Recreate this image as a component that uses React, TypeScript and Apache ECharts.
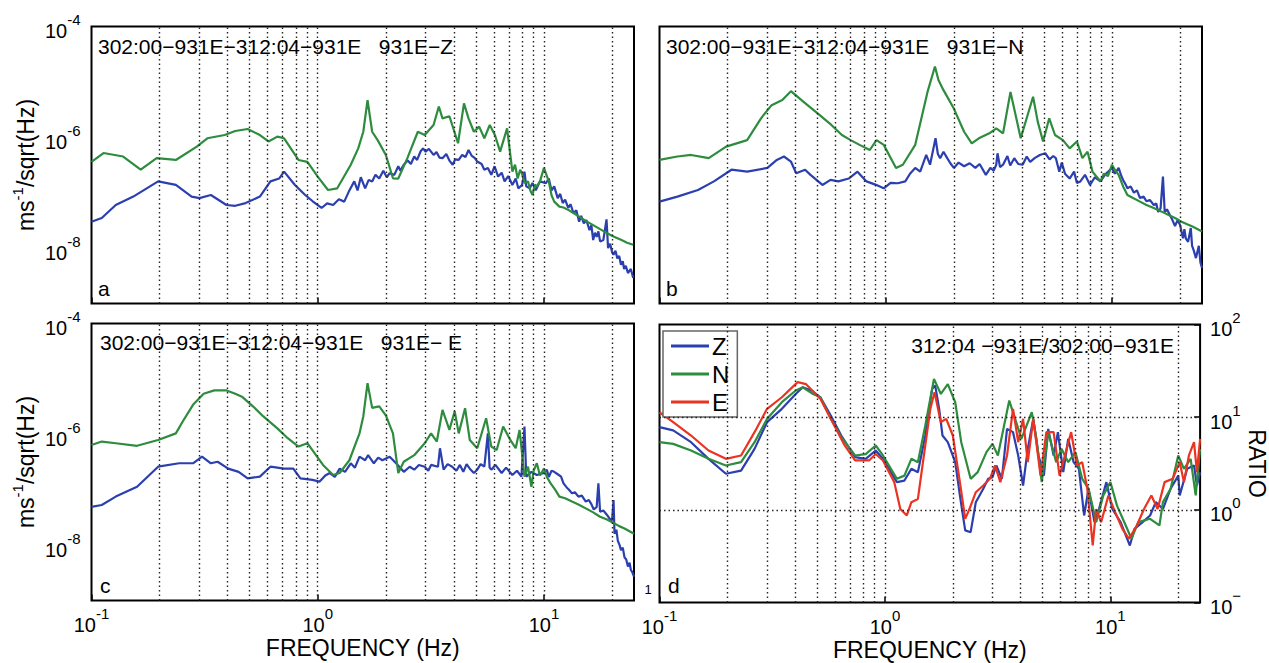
import { useEffect, useRef } from "react";
import * as echarts from "echarts";

const FONT = "'Liberation Sans', Arial, Helvetica, sans-serif";
const BLUE = "#2c3fae";
const GREEN = "#2e8c3e";
const RED = "#eb3322";

const FREQ_MIN = 0.1;
const FREQ_MAX = 25;
const ASD_MIN = 1e-9;
const ASD_MAX = 1e-4;
const RATIO_MIN = 0.1;
const RATIO_MAX = 100;

const GRID_FREQS = [0.2, 0.3, 0.4, 0.5, 0.6, 0.7, 0.8, 0.9, 1, 2, 3, 4, 5, 6, 7, 8, 9, 10, 20];
const ASD_GRID = [1e-6, 1e-8];
const RATIO_GRID = [1, 10];

const PANEL_TITLES = [
  "302:00−931E−312:04−931E   931E−Z",
  "302:00−931E−312:04−931E   931E−N",
  "302:00−931E−312:04−931E   931E− E",
  "312:04 −931E/302:00−931E",
];
const PANEL_LETTERS = ["a", "b", "c", "d"];
const RATIO_NAMES = ["Z", "N", "E"];

// Panel a (931E-Z): blue = first spectrum, green = second spectrum
const aBlue: number[][] = [
  [0.1, 3.0e-8], [0.111, 3.5e-8], [0.128, 6.0e-8], [0.153, 8.5e-8], [0.197, 1.6e-7], [0.236, 1.38e-7],
  [0.277, 8.5e-8], [0.3, 8.0e-8], [0.337, 9.1e-8], [0.395, 6.0e-8], [0.432, 5.8e-8], [0.48, 6.5e-8],
  [0.555, 8.5e-8], [0.618, 1.6e-7], [0.675, 1.8e-7], [0.71, 2.4e-7], [0.793, 1.38e-7], [0.88, 9.1e-8],
  [0.95, 7.0e-8], [1.04, 5.3e-8], [1.1, 6.4e-8], [1.17, 6.0e-8], [1.24, 7.6e-8], [1.31, 6.9e-8],
  [1.38, 1.1e-7], [1.45, 1.6e-7], [1.5, 1.1e-7], [1.55, 1.9e-7], [1.62, 1.2e-7], [1.68, 1.7e-7],
  [1.74, 1.6e-7], [1.8, 2.1e-7], [1.87, 1.8e-7], [1.95, 2.5e-7], [2.02, 1.9e-7], [2.08, 2.25e-7],
  [2.18, 2.1e-7], [2.27, 3.0e-7], [2.32, 2.5e-7], [2.4, 3.2e-7], [2.5, 3.8e-7], [2.58, 3.3e-7],
  [2.67, 4.5e-7], [2.75, 3.9e-7], [2.85, 5.6e-7], [2.92, 6.3e-7], [3.0, 5.5e-7], [3.1, 6.2e-7],
  [3.25, 4.8e-7], [3.35, 5.4e-7], [3.45, 4.3e-7], [3.56, 4.2e-7], [3.7, 5.0e-7], [3.82, 3.8e-7],
  [3.95, 3.2e-7], [4.05, 4.0e-7], [4.2, 3.9e-7], [4.35, 4.8e-7], [4.5, 4.4e-7], [4.64, 5.9e-7],
  [4.8, 4.6e-7], [4.95, 4.2e-7], [5.07, 3.65e-7], [5.3, 3.3e-7], [5.45, 2.6e-7], [5.65, 2.8e-7],
  [5.85, 2.1e-7], [6.05, 3.0e-7], [6.27, 1.95e-7], [6.5, 2.3e-7], [6.7, 1.6e-7], [6.95, 2.0e-7],
  [7.25, 1.38e-7], [7.5, 1.8e-7], [7.7, 1.2e-7], [8.0, 1.38e-7], [8.2, 2.4e-7], [8.35, 1.3e-7],
  [8.65, 1.2e-7], [8.9, 1.5e-7], [9.2, 1.1e-7], [9.6, 1.6e-7], [10.2, 1.48e-7], [10.5, 1.8e-7],
  [10.8, 1.1e-7], [11.1, 1.3e-7], [11.5, 8.0e-8], [11.8, 9.5e-8], [12.1, 6.5e-8], [12.4, 7.5e-8],
  [12.8, 5.3e-8], [13.1, 6.2e-8], [13.5, 4.3e-8], [13.9, 4.8e-8], [14.3, 3.0e-8], [14.6, 3.8e-8],
  [15.0, 2.8e-8], [15.4, 3.2e-8], [15.9, 2.1e-8], [16.2, 2.6e-8], [16.5, 1.4e-8], [16.8, 1.9e-8],
  [17.1, 1.6e-8], [17.4, 2.0e-8], [17.7, 1.32e-8], [18.3, 1.4e-8], [18.9, 3.3e-8], [19.2, 1.0e-8],
  [19.6, 1.2e-8], [20.0, 8.5e-9], [20.3, 7.6e-9], [20.7, 9.0e-9], [21.1, 6.5e-9], [21.5, 7.2e-9],
  [21.9, 5.0e-9], [22.3, 5.8e-9], [22.6, 4.2e-9], [23.0, 4.8e-9], [23.5, 3.55e-9], [24.2, 4.2e-9],
  [24.8, 2.9e-9],
];
const aGreen: number[][] = [
  [0.1, 3.6e-7], [0.113, 5.2e-7], [0.138, 4.5e-7], [0.165, 2.6e-7], [0.194, 4.2e-7], [0.236, 3.9e-7],
  [0.292, 6.8e-7], [0.325, 9.6e-7], [0.388, 1.1e-6], [0.432, 1.3e-6], [0.49, 1.41e-6], [0.555, 1.1e-6],
  [0.606, 8.4e-7], [0.663, 1.03e-6], [0.71, 9.6e-7], [0.822, 3.9e-7], [0.9, 3.6e-7], [1.0, 1.95e-7],
  [1.11, 1.12e-7], [1.22, 1.2e-7], [1.4, 3.2e-7], [1.51, 6.3e-7], [1.59, 1.26e-6], [1.66, 4.7e-6],
  [1.74, 1.26e-6], [1.84, 8.9e-7], [2.0, 4.8e-7], [2.15, 1.82e-7], [2.27, 1.8e-7], [2.49, 4.2e-7],
  [2.77, 1.26e-6], [2.97, 1.1e-6], [3.25, 1.67e-6], [3.43, 3.6e-6], [3.56, 2.2e-6], [3.82, 2.4e-6],
  [4.17, 7.8e-7], [4.43, 4.1e-6], [4.64, 2.2e-6], [4.9, 1.26e-6], [5.17, 1.56e-6], [5.45, 9.6e-7],
  [5.76, 1.67e-6], [6.07, 1.1e-6], [6.4, 5.5e-7], [6.87, 1.45e-6], [7.25, 2.4e-7], [7.45, 3.2e-7],
  [7.65, 1.8e-7], [7.85, 2.6e-7], [8.0, 2.2e-7], [8.2, 1.5e-7], [8.5, 1.6e-7], [8.7, 1.1e-7],
  [8.9, 9.1e-8], [9.1, 1.4e-7], [9.3, 1.3e-7], [9.6, 1.6e-7], [10, 2.8e-7], [10.3, 2.0e-7],
  [10.5, 1.6e-7], [10.8, 9.0e-8], [11.1, 6.9e-8], [11.7, 5.6e-8], [12.2, 5.4e-8], [12.8, 4.9e-8],
  [13.5, 4.3e-8], [14.3, 3.7e-8], [15.3, 3.1e-8], [16.5, 2.6e-8], [17.7, 2.2e-8], [19.0, 1.86e-8],
  [20.4, 1.6e-8], [21.9, 1.41e-8], [23.3, 1.25e-8], [24.8, 1.15e-8],
];

// Panel b (931E-N)
const bBlue: number[][] = [
  [0.1, 6.9e-8], [0.12, 8.5e-8], [0.148, 1.12e-7], [0.174, 1.6e-7], [0.208, 2.6e-7], [0.244, 2.4e-7],
  [0.3, 2.8e-7], [0.33, 3.9e-7], [0.355, 4.5e-7], [0.381, 3.65e-7], [0.402, 2.25e-7], [0.44, 2.6e-7],
  [0.465, 2.1e-7], [0.525, 1.38e-7], [0.57, 1.7e-7], [0.618, 1.6e-7], [0.686, 1.8e-7], [0.75, 2.4e-7],
  [0.822, 1.6e-7], [0.9, 1.4e-7], [0.98, 1.2e-7], [1.05, 1.5e-7], [1.13, 1.48e-7], [1.22, 1.6e-7],
  [1.28, 2.2e-7], [1.35, 2.8e-7], [1.42, 2.4e-7], [1.51, 4.8e-7], [1.57, 3.2e-7], [1.66, 9.6e-7],
  [1.7, 5.0e-7], [1.74, 4.2e-7], [1.8, 5.5e-7], [1.87, 4.2e-7], [1.93, 3.4e-7], [2.0, 2.8e-7],
  [2.1, 3.5e-7], [2.22, 3.0e-7], [2.35, 3.4e-7], [2.49, 2.8e-7], [2.6, 3.3e-7], [2.77, 2.1e-7],
  [2.9, 2.8e-7], [3.0, 2.5e-7], [3.08, 3.2e-7], [3.12, 5.15e-7], [3.2, 2.9e-7], [3.3, 3.2e-7],
  [3.45, 4.6e-7], [3.55, 3.1e-7], [3.7, 4.2e-7], [3.85, 3.3e-7], [4.03, 3.2e-7], [4.2, 4.5e-7],
  [4.35, 3.6e-7], [4.55, 4.2e-7], [4.8, 4.8e-7], [5.07, 5.15e-7], [5.3, 4.0e-7], [5.5, 4.6e-7],
  [5.65, 4.2e-7], [5.85, 2.4e-7], [6.0, 3.5e-7], [6.2, 2.2e-7], [6.5, 1.8e-7], [6.8, 2.4e-7],
  [7.0, 1.5e-7], [7.25, 1.6e-7], [7.6, 2.1e-7], [8.0, 1.38e-7], [8.4, 1.9e-7], [8.9, 1.6e-7],
  [9.3, 2.1e-7], [10, 2.8e-7], [10.3, 2.2e-7], [10.7, 2.8e-7], [11.0, 2.0e-7], [11.2, 1.7e-7],
  [11.5, 1.4e-7], [11.7, 1.2e-7], [12.1, 1.3e-7], [12.5, 1.0e-7], [12.9, 1.1e-7], [13.3, 8.0e-8],
  [13.8, 8.5e-8], [14.2, 7.0e-8], [14.7, 7.4e-8], [15.3, 6.0e-8], [15.7, 6.4e-8], [16.0, 4.5e-8],
  [16.4, 5.2e-8], [16.8, 1.95e-7], [17.1, 4.5e-8], [17.5, 5.0e-8], [18.0, 4.0e-8], [18.5, 3.2e-8],
  [19.0, 2.5e-8], [19.5, 3.2e-8], [20, 2.6e-8], [20.6, 1.5e-8], [20.9, 2.2e-8], [21.2, 1.5e-8],
  [21.7, 1.3e-8], [22.3, 2.3e-8], [22.6, 1.1e-8], [23.0, 9.0e-9], [23.5, 6.6e-9], [24.2, 1.1e-8],
  [24.6, 5.5e-9], [25, 4.4e-9],
];
const bGreen: number[][] = [
  [0.1, 3.9e-7], [0.12, 4.5e-7], [0.138, 4.8e-7], [0.165, 4.2e-7], [0.197, 6.8e-7], [0.244, 8.9e-7],
  [0.281, 2.2e-6], [0.313, 3.8e-6], [0.349, 4.7e-6], [0.381, 6.8e-6], [0.432, 4.4e-6], [0.5, 2.7e-6],
  [0.575, 1.67e-6], [0.64, 1.1e-6], [0.7, 8.9e-7], [0.766, 7.3e-7], [0.85, 5.9e-7], [0.91, 8.9e-7],
  [0.98, 7.3e-7], [1.11, 2.8e-7], [1.19, 3.2e-7], [1.35, 7.3e-7], [1.53, 6.6e-6], [1.65, 1.9e-5],
  [1.71, 1.08e-5], [1.8, 7.1e-6], [2.0, 3.3e-6], [2.22, 1.26e-6], [2.4, 7.8e-7], [2.58, 9.6e-7],
  [2.87, 1.18e-6], [3.08, 1.45e-6], [3.3, 1.18e-6], [3.56, 6.6e-6], [3.95, 9.6e-7], [4.48, 5.4e-6],
  [4.7, 1.9e-6], [4.96, 8.4e-7], [5.28, 2.2e-6], [5.6, 1.1e-6], [6.07, 8.9e-7], [6.5, 6.3e-7],
  [7.0, 8.4e-7], [7.4, 4.2e-7], [7.8, 5.5e-7], [8.2, 2.4e-7], [8.5, 2.0e-7], [8.9, 1.6e-7],
  [9.2, 2.2e-7], [9.6, 2.0e-7], [10, 3.2e-7], [10.3, 2.6e-7], [10.7, 2.1e-7], [11.2, 1.3e-7],
  [11.7, 9.1e-8], [12.4, 8.0e-8], [13.3, 6.9e-8], [14.2, 6.0e-8], [15.3, 5.3e-8], [16.5, 4.6e-8],
  [17.7, 4.0e-8], [19.0, 3.5e-8], [20.3, 3.0e-8], [21.5, 2.7e-8], [22.7, 2.45e-8], [25, 2.0e-8],
];

// Panel c (931E-E)
const cBlue: number[][] = [
  [0.1, 4.9e-8], [0.111, 5.3e-8], [0.128, 7.5e-8], [0.159, 1.13e-7], [0.197, 2.6e-7], [0.244, 3.0e-7],
  [0.281, 3.0e-7], [0.308, 3.95e-7], [0.337, 3.0e-7], [0.361, 3.2e-7], [0.402, 2.4e-7], [0.447, 2.1e-7],
  [0.49, 1.6e-7], [0.555, 1.72e-7], [0.618, 2.6e-7], [0.71, 2.4e-7], [0.78, 2.4e-7], [0.838, 1.6e-7],
  [0.947, 1.5e-7], [1.02, 1.4e-7], [1.08, 1.8e-7], [1.13, 2.0e-7], [1.19, 1.7e-7], [1.25, 2.4e-7],
  [1.32, 2.1e-7], [1.4, 3.0e-7], [1.46, 2.5e-7], [1.53, 3.95e-7], [1.62, 3.4e-7], [1.67, 4.2e-7],
  [1.77, 3.0e-7], [1.85, 3.8e-7], [1.93, 3.4e-7], [2.08, 3.95e-7], [2.22, 3.0e-7], [2.4, 2.1e-7],
  [2.55, 2.6e-7], [2.67, 2.3e-7], [2.8, 2.8e-7], [2.97, 2.6e-7], [3.08, 2.2e-7], [3.17, 2.8e-7],
  [3.4, 2.6e-7], [3.47, 5.6e-7], [3.6, 2.3e-7], [3.75, 2.9e-7], [3.93, 2.6e-7], [4.1, 2.2e-7],
  [4.25, 2.8e-7], [4.4, 2.1e-7], [4.55, 2.9e-7], [4.7, 2.4e-7], [4.9, 2.0e-7], [5.07, 2.3e-7],
  [5.25, 2.9e-7], [5.45, 2.6e-7], [5.65, 1.04e-6], [5.75, 2.5e-7], [5.85, 2.3e-7], [6.1, 2.8e-7],
  [6.5, 2.0e-7], [6.8, 2.5e-7], [7.25, 1.84e-7], [7.6, 2.2e-7], [7.95, 1.72e-7], [8.2, 1.38e-6],
  [8.35, 1.72e-7], [8.8, 2.1e-7], [9.3, 1.84e-7], [10, 2.0e-7], [10.3, 2.3e-7], [10.5, 1.7e-7],
  [10.8, 2.2e-7], [11.1, 2.1e-7], [11.5, 1.9e-7], [11.9, 1.72e-7], [12.2, 1.3e-7], [12.6, 1.1e-7],
  [12.9, 1.0e-7], [13.3, 8.6e-8], [13.7, 9.0e-8], [14.2, 7.5e-8], [14.7, 7.8e-8], [15.3, 6.1e-8],
  [15.8, 6.5e-8], [16.2, 5.5e-8], [16.6, 4.4e-8], [17.1, 4.9e-8], [17.4, 1.3e-7], [17.7, 4.0e-8],
  [18.3, 4.2e-8], [19.0, 3.5e-8], [19.5, 3.0e-8], [20, 2.8e-8], [20.3, 6.5e-8], [20.5, 1.6e-8],
  [20.9, 1.9e-8], [21.2, 1.2e-8], [21.6, 1.0e-8], [21.9, 8.1e-9], [22.3, 9.0e-9], [22.7, 6.0e-9],
  [23.1, 5.5e-9], [23.5, 4.1e-9], [23.9, 4.8e-9], [24.2, 3.6e-9], [24.6, 3.2e-9], [25, 2.7e-9],
];
const cGreen: number[][] = [
  [0.1, 6.4e-7], [0.111, 7.4e-7], [0.128, 6.9e-7], [0.159, 6.2e-7], [0.197, 7.9e-7], [0.236, 1.04e-6],
  [0.253, 1.7e-6], [0.281, 3.4e-6], [0.313, 5.4e-6], [0.349, 6.2e-6], [0.396, 6.2e-6], [0.432, 5.4e-6],
  [0.465, 4.7e-6], [0.517, 3.2e-6], [0.575, 2.1e-6], [0.663, 1.28e-6], [0.737, 8.5e-7], [0.822, 6.0e-7],
  [0.9, 6.9e-7], [0.947, 5.2e-7], [1.055, 2.8e-7], [1.17, 1.84e-7], [1.25, 2.0e-7], [1.38, 3.4e-7],
  [1.53, 1.04e-6], [1.59, 2.1e-6], [1.66, 8.4e-6], [1.74, 3.0e-6], [1.87, 3.2e-6], [2.0, 2.2e-6],
  [2.15, 1.04e-6], [2.27, 2.0e-7], [2.4, 3.2e-7], [2.67, 4.2e-7], [2.97, 6.9e-7], [3.17, 1.04e-6],
  [3.36, 7.4e-7], [3.56, 2.75e-6], [3.82, 1.2e-6], [4.03, 2.6e-6], [4.2, 1.04e-6], [4.48, 2.95e-6],
  [4.7, 7.9e-7], [5.07, 5.6e-7], [5.55, 1.95e-6], [5.85, 6.0e-7], [6.18, 5.2e-7], [6.6, 1.38e-6],
  [7.1, 7.9e-7], [7.5, 5.6e-7], [7.8, 1.2e-6], [8.2, 1.72e-7], [8.5, 2.6e-7], [8.8, 1.13e-7],
  [9.0, 2.2e-7], [9.3, 3.0e-7], [9.6, 1.8e-7], [10, 2.4e-7], [10.3, 1.7e-7], [10.7, 1.3e-7],
  [11.2, 1.0e-7], [11.7, 7.5e-8], [12.4, 7.0e-8], [13.3, 6.1e-8], [14.2, 5.4e-8], [15.3, 4.6e-8],
  [16.5, 3.9e-8], [17.7, 3.25e-8], [19.0, 2.9e-8], [20.3, 2.5e-8], [21.5, 2.2e-8], [22.7, 2.0e-8],
  [25, 1.6e-8],
];

// Panel d: spectral ratios 312:04 / 302:00
const dZ: number[][] = [
  [0.1, 7.8], [0.115, 7.2], [0.138, 5.37], [0.165, 3.55], [0.197, 2.45], [0.23, 2.65], [0.264, 4.55],
  [0.3, 8.83], [0.349, 12.3], [0.402, 17.8], [0.432, 21], [0.473, 19.4], [0.517, 16.4], [0.575, 10.4],
  [0.64, 6.34], [0.737, 3.7], [0.822, 3.55], [0.91, 4.37], [0.98, 3.55], [1.13, 1.99], [1.22, 2.07],
  [1.31, 2.77], [1.4, 2.55], [1.51, 6.34], [1.62, 20.2], [1.67, 22], [1.74, 12.3], [1.8, 6.34],
  [1.9, 5.37], [2.05, 3.27], [2.15, 1.43], [2.27, 0.6], [2.4, 0.574], [2.53, 1.21], [2.73, 1.69],
  [2.87, 2.16], [3.0, 2.25], [3.12, 3.01], [3.3, 2.16], [3.48, 7.48], [3.7, 6.89], [3.9, 3.86],
  [4.1, 1.83], [4.3, 4.55], [4.55, 9.6], [4.8, 3.86], [5.07, 2.34], [5.3, 7.48], [5.6, 3.86],
  [5.85, 6.89], [6.18, 2.55], [6.5, 5.84], [6.87, 3.27], [7.25, 2.77], [7.65, 0.869], [8.0, 1.69],
  [8.5, 0.736], [8.9, 1.02], [9.6, 1.99], [10.2, 1.02], [11.1, 0.736], [12.2, 0.412], [12.8, 0.624],
  [13.9, 0.736], [15.0, 0.869], [15.9, 1.21], [17.1, 1.02], [18.5, 1.69], [20, 2.34], [20.3, 1.43],
  [21.9, 2.77], [23.5, 3.01], [24.2, 1.83], [25, 2.55],
];
const dN: number[][] = [
  [0.1, 5.37], [0.115, 5.15], [0.138, 4.37], [0.165, 3.55], [0.197, 3.01], [0.23, 3.27], [0.264, 5.37],
  [0.3, 9.6], [0.349, 14.5], [0.402, 19.4], [0.432, 21], [0.48, 17.8], [0.517, 16.4], [0.575, 9.6],
  [0.64, 6.1], [0.737, 3.86], [0.822, 4.0], [0.91, 4.95], [0.98, 3.86], [1.13, 2.16], [1.22, 2.34],
  [1.31, 3.55], [1.4, 3.27], [1.51, 8.13], [1.65, 25.9], [1.77, 17.8], [1.9, 22.7], [2.05, 14.5],
  [2.18, 5.37], [2.4, 2.16], [2.58, 2.55], [2.82, 4.19], [3.0, 5.15], [3.17, 3.86], [3.56, 15.1],
  [3.82, 8.83], [4.03, 5.84], [4.48, 11.3], [4.7, 5.84], [4.96, 1.99], [5.3, 6.89], [5.75, 3.27],
  [6.07, 4.55], [6.5, 3.27], [7.0, 4.19], [7.5, 2.16], [8.0, 1.69], [8.65, 0.736], [9.3, 1.43],
  [10, 1.99], [10.7, 1.11], [11.7, 0.678], [12.4, 0.487], [13.3, 0.736], [15.0, 0.8], [16.5, 0.678],
  [17.1, 1.21], [18.5, 1.69], [20, 3.86], [21.2, 2.77], [22.7, 3.55], [23.9, 1.43], [25, 4.55],
];
const dE: number[][] = [
  [0.1, 11.3], [0.115, 8.83], [0.138, 6.34], [0.165, 4.37], [0.197, 3.55], [0.23, 3.86], [0.264, 6.89],
  [0.3, 12.3], [0.349, 16.4], [0.41, 23.9], [0.447, 22.7], [0.517, 15.8], [0.575, 9.6], [0.663, 4.95],
  [0.737, 3.41], [0.85, 3.41], [0.91, 4.0], [0.98, 3.41], [1.1, 1.99], [1.17, 1.02], [1.25, 0.869],
  [1.31, 1.21], [1.4, 1.31], [1.51, 4.95], [1.59, 12.3], [1.66, 18.6], [1.77, 8.83], [1.87, 9.6],
  [2.0, 6.34], [2.15, 1.99], [2.27, 0.8], [2.37, 1.02], [2.53, 1.55], [2.73, 1.83], [2.92, 2.16],
  [3.08, 3.01], [3.25, 1.99], [3.48, 3.86], [3.7, 12.3], [3.9, 5.37], [4.1, 9.6], [4.3, 3.27],
  [4.55, 9.6], [4.9, 2.34], [5.2, 6.89], [5.6, 6.89], [5.95, 2.34], [6.4, 4.55], [6.7, 6.89],
  [7.1, 3.01], [7.5, 3.27], [7.9, 1.69], [8.35, 0.412], [8.65, 1.02], [9.1, 0.736], [9.8, 1.43],
  [10.5, 0.944], [11.3, 0.624], [12.1, 0.487], [13.1, 0.678], [14.1, 1.02], [15.2, 1.43], [16.2, 1.02],
  [17.4, 1.99], [18.9, 2.16], [20.3, 3.27], [21.2, 1.99], [22.3, 3.86], [23.5, 5.37], [24.2, 2.55],
  [25, 5.84],
];

const GRIDS = [
  { left: 91.5, top: 26.5, width: 542.5, height: 277 },
  { left: 659.5, top: 26.5, width: 542.5, height: 277 },
  { left: 91.5, top: 323.5, width: 542.5, height: 277 },
  { left: 659.5, top: 324.5, width: 542.5, height: 278 },
];

const RICH = {
  b: { fontSize: 20, lineHeight: 29, verticalAlign: "bottom", color: "#000", fontFamily: FONT },
  s: { fontSize: 15, lineHeight: 14, verticalAlign: "top", color: "#000", fontFamily: FONT },
};

function expOf(v: number) {
  return Math.round(Math.log10(v));
}

function buildOption() {
  const grid = GRIDS.map((g) => ({
    ...g,
    show: true,
    borderColor: "#000",
    borderWidth: 2,
    backgroundColor: "#fff",
    containLabel: false,
  }));

  const xAxis = GRIDS.map((_, i) => ({
    type: "log",
    logBase: 10,
    gridIndex: i,
    min: FREQ_MIN,
    max: FREQ_MAX,
    axisLine: { show: false },
    splitLine: { show: false },
    axisTick: { show: true, inside: true, length: 6, lineStyle: { color: "#000", width: 1.5 } },
    axisLabel: {
      show: i >= 2,
      showMaxLabel: false,
      margin: 5,
      formatter: (v: number) => `{b|10}{s|${expOf(v)}}`,
      rich: RICH,
    },
    name: i >= 2 ? "FREQUENCY (Hz)" : "",
    nameLocation: "middle",
    nameGap: 36,
    nameTextStyle: { fontSize: 23, color: "#000", fontFamily: FONT },
  }));

  const nameRich = {
    n: { fontSize: 23, lineHeight: 28, verticalAlign: "bottom", color: "#000", fontFamily: FONT },
    s: { fontSize: 15, lineHeight: 14, verticalAlign: "top", color: "#000", fontFamily: FONT },
  };

  const yAxis: any[] = [0, 1, 2].map((i) => ({
    type: "log",
    logBase: 10,
    gridIndex: i,
    min: ASD_MIN,
    max: ASD_MAX,
    axisLine: { show: false },
    splitLine: { show: false },
    axisTick: { show: false },
    axisLabel: {
      show: i !== 1,
      margin: 11,
      formatter: (v: number) => {
        const e = expOf(v);
        return e % 2 === 0 ? `{b|10}{s|${e}}` : "";
      },
      rich: RICH,
    },
    name: i === 1 ? "" : "{n|ms}{s|-1}{n|/sqrt(Hz)}",
    nameLocation: "middle",
    nameRotate: 90,
    nameGap: 54,
    nameTextStyle: { rich: nameRich },
  }));
  yAxis.push({
    type: "log",
    logBase: 10,
    gridIndex: 3,
    position: "right",
    min: RATIO_MIN,
    max: RATIO_MAX,
    axisLine: { show: false },
    splitLine: { show: false },
    axisTick: { show: true, inside: true, length: 6, lineStyle: { color: "#000", width: 1.5 } },
    axisLabel: {
      margin: 10,
      formatter: (v: number) => {
        const e = expOf(v);
        return e < 0 ? `{b|10}{s|−}` : `{b|10}{s|${e}}`;
      },
      rich: RICH,
    },
    name: "RATIO",
    nameLocation: "middle",
    nameRotate: -90,
    nameGap: 40,
    nameTextStyle: { fontSize: 23, color: "#000", fontFamily: FONT },
  });

  const gridLineStyle = { type: [1.5, 3], color: "#2a2222", width: 1.4 };
  const series: any[] = [];
  GRIDS.forEach((_, i) => {
    const hVals = i === 3 ? RATIO_GRID : ASD_GRID;
    series.push({
      name: `grid-${i}`,
      type: "line",
      xAxisIndex: i,
      yAxisIndex: i,
      data: [],
      z: 1,
      silent: true,
      markLine: {
        silent: true,
        symbol: ["none", "none"],
        label: { show: false },
        lineStyle: gridLineStyle,
        emphasis: { disabled: true },
        data: [
          ...GRID_FREQS.map((f) => ({ xAxis: f })),
          ...hVals.map((v) => ({ yAxis: v })),
        ],
      },
    });
  });

  const lineSeries = (name: string, data: number[][], color: string, idx: number) => ({
    name,
    type: "line",
    xAxisIndex: idx,
    yAxisIndex: idx,
    data,
    showSymbol: false,
    symbol: "none",
    z: 3,
    lineStyle: { color, width: 2.2 },
    itemStyle: { color },
    emphasis: { disabled: true },
  });

  series.push(lineSeries("a-blue", aBlue, BLUE, 0));
  series.push(lineSeries("a-green", aGreen, GREEN, 0));
  series.push(lineSeries("b-blue", bBlue, BLUE, 1));
  series.push(lineSeries("b-green", bGreen, GREEN, 1));
  series.push(lineSeries("c-blue", cBlue, BLUE, 2));
  series.push(lineSeries("c-green", cGreen, GREEN, 2));
  series.push(lineSeries(RATIO_NAMES[0], dZ, BLUE, 3));
  series.push(lineSeries(RATIO_NAMES[1], dN, GREEN, 3));
  series.push(lineSeries(RATIO_NAMES[2], dE, RED, 3));

  const titlePos = [
    { x: 98, y: 46, align: "left" },
    { x: 666, y: 46, align: "left" },
    { x: 100, y: 342, align: "left" },
    { x: 1174, y: 345, align: "right" },
  ];
  const letterPos = [
    { x: 98, y: 288 },
    { x: 666, y: 288 },
    { x: 100, y: 585 },
    { x: 668, y: 585 },
  ];
  const graphic: any[] = [];
  PANEL_TITLES.forEach((t, i) => {
    graphic.push({
      type: "text",
      x: titlePos[i].x,
      y: titlePos[i].y,
      z: 10,
      style: {
        text: t,
        fontSize: 21,
        fontFamily: FONT,
        fill: "#000",
        align: titlePos[i].align,
        verticalAlign: "middle",
      },
    });
  });
  PANEL_LETTERS.forEach((t, i) => {
    graphic.push({
      type: "text",
      x: letterPos[i].x,
      y: letterPos[i].y,
      z: 10,
      style: { text: t, fontSize: 21, fontFamily: FONT, fill: "#000", align: "left", verticalAlign: "middle" },
    });
  });
  graphic.push({
    type: "text",
    x: 648,
    y: 589,
    style: { text: "1", fontSize: 13, fontFamily: FONT, fill: "#000", align: "center", verticalAlign: "middle" },
  });

  return {
    animation: false,
    backgroundColor: "#fff",
    textStyle: { fontFamily: FONT, color: "#000" },
    grid,
    xAxis,
    yAxis,
    legend: {
      data: RATIO_NAMES,
      orient: "vertical",
      left: 663,
      top: 331,
      backgroundColor: "#fff",
      borderColor: "#666",
      borderWidth: 1.5,
      borderRadius: 0,
      padding: [3, 8, 3, 8],
      itemWidth: 38,
      itemHeight: 3,
      itemGap: 4,
      icon: "rect",
      selectedMode: false,
      textStyle: { fontSize: 24, color: "#000", fontFamily: FONT, padding: [0, 0, 0, -2] },
    },
    series,
    graphic,
  };
}

export default function App() {
  const ref = useRef<HTMLDivElement>(null);
  useEffect(() => {
    if (!ref.current) return;
    const chart = echarts.init(ref.current, undefined, { renderer: "svg" });
    chart.setOption(buildOption() as any);
    return () => chart.dispose();
  }, []);
  return (
    <div
      ref={ref}
      style={{ position: "fixed", left: 0, top: 0, width: 1269, height: 663, background: "#fff" }}
    />
  );
}
